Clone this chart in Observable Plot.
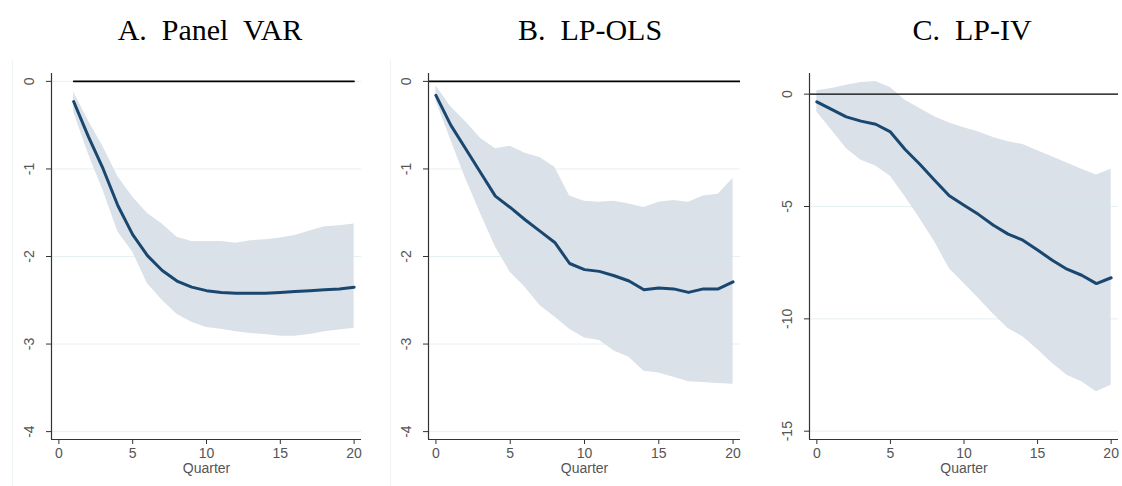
<!DOCTYPE html>
<html><head><meta charset="utf-8">
<script src="https://cdn.jsdelivr.net/npm/d3@7"></script>
<script src="https://cdn.jsdelivr.net/npm/@observablehq/plot@0.6"></script>
<style>
body{margin:0;background:#fff;width:1122px;height:486px;position:relative;overflow:hidden;font-family:"Liberation Sans",Arial,sans-serif;}
.title{position:absolute;top:15px;font-family:"Liberation Serif","Times New Roman",serif;font-size:30px;line-height:30px;white-space:pre;transform:translateX(-50%);color:#000;}
.panel{position:absolute;top:60px;}
.sep{position:absolute;top:60px;width:1px;height:426px;background:#eef3f5;}
</style></head><body>
<div class="sep" style="left:12px"></div>
<div class="sep" style="left:390px"></div>
<div id="tA" class="title" style="left:210px"></div>
<div id="tB" class="title" style="left:590px"></div>
<div id="tC" class="title" style="left:972px"></div>
<div id="pA" class="panel" style="left:0px"></div>
<div id="pB" class="panel" style="left:380px"></div>
<div id="pC" class="panel" style="left:760px"></div>
<script>
// ---- Data ----
const titles = ["A.  Panel  VAR", "B.  LP-OLS", "C.  LP-IV"];
const xLabel = "Quarter";
const xTicks = [0, 5, 10, 15, 20];
const yTicksAB = [0, -1, -2, -3, -4];
const yTicksC = [0, -5, -10, -15];

const quartersA = [1,2,3,4,5,6,7,8,9,10,11,12,13,14,15,16,17,18,19,20];
const varMean  = [-0.23,-0.63,-1.00,-1.42,-1.75,-1.99,-2.16,-2.28,-2.35,-2.39,-2.41,-2.42,-2.42,-2.42,-2.41,-2.40,-2.39,-2.38,-2.37,-2.35];
const varUpper = [-0.12,-0.45,-0.75,-1.09,-1.32,-1.51,-1.63,-1.78,-1.83,-1.83,-1.83,-1.85,-1.82,-1.81,-1.79,-1.76,-1.71,-1.66,-1.65,-1.63];
const varLower = [-0.35,-0.83,-1.25,-1.72,-1.95,-2.31,-2.50,-2.66,-2.75,-2.81,-2.83,-2.86,-2.88,-2.89,-2.91,-2.91,-2.89,-2.86,-2.84,-2.82];

const quartersBC = [0,1,2,3,4,5,6,7,8,9,10,11,12,13,14,15,16,17,18,19,20];
const olsMean  = [-0.16,-0.50,-0.77,-1.04,-1.31,-1.44,-1.58,-1.71,-1.84,-2.08,-2.15,-2.17,-2.22,-2.28,-2.38,-2.36,-2.37,-2.41,-2.37,-2.37,-2.29];
const olsUpper = [-0.05,-0.29,-0.46,-0.65,-0.77,-0.74,-0.82,-0.87,-0.98,-1.31,-1.37,-1.38,-1.37,-1.40,-1.44,-1.38,-1.36,-1.38,-1.31,-1.29,-1.11];
const olsLower = [-0.22,-0.67,-1.11,-1.51,-1.89,-2.18,-2.35,-2.56,-2.69,-2.83,-2.93,-2.96,-3.08,-3.15,-3.31,-3.33,-3.38,-3.43,-3.44,-3.45,-3.46];

const ivMean  = [-0.34,-0.68,-1.01,-1.20,-1.34,-1.68,-2.46,-3.12,-3.83,-4.52,-4.94,-5.36,-5.83,-6.23,-6.50,-6.94,-7.39,-7.79,-8.06,-8.43,-8.17];
const ivUpper = [0.15,0.25,0.40,0.52,0.56,0.30,-0.27,-0.64,-1.01,-1.28,-1.50,-1.68,-1.93,-2.12,-2.24,-2.52,-2.79,-3.06,-3.34,-3.60,-3.34];
const ivLower = [-0.79,-1.60,-2.42,-2.94,-3.20,-3.65,-4.57,-5.53,-6.57,-7.76,-8.43,-9.09,-9.79,-10.43,-10.80,-11.36,-11.98,-12.51,-12.80,-13.25,-12.95];

// ---- Chart ----
const xDomain = [-0.5, 20.5];

function panel({quarters, mean, upper, lower, yDomain, yTicks, zeroFull, zeroWidth, width, marginLeft, marginRight}) {
  const rows = quarters.map((q, i) => ({q, m: mean[i], u: upper[i], l: lower[i]}));
  const zeroMark = zeroFull
    ? Plot.ruleY([0], {stroke: "#000", strokeWidth: zeroWidth})
    : Plot.line(rows, {x: "q", y: () => 0, stroke: "#000", strokeWidth: zeroWidth});
  return Plot.plot({
    width, height: 426,
    marginTop: 13, marginBottom: 47, marginLeft, marginRight,
    x: {domain: xDomain},
    y: {domain: yDomain},
    style: {fontFamily: "'Liberation Sans', Arial, sans-serif", fontSize: "14px", color: "#555", background: "transparent", overflow: "visible"},
    marks: [
      Plot.areaY(rows, {x: "q", y1: "l", y2: "u", fill: "#dae1e8"}),
      Plot.gridY(yTicks, {stroke: "#d5e6e9", strokeOpacity: 0.6}),
      zeroMark,
      Plot.line(rows, {x: "q", y: "m", stroke: "#1a476f", strokeWidth: 3}),
      Plot.ruleX([xDomain[0]], {stroke: "#333", strokeWidth: 1.2}),
      Plot.ruleY([yDomain[0]], {stroke: "#333", strokeWidth: 1.2}),
      Plot.axisX(xTicks, {tickSize: 5, tickPadding: 4, label: null, stroke: "#333", fontSize: 14}),
      Plot.axisY(yTicks, {tickSize: 5, tickPadding: 13, tickRotate: -90, textAnchor: "middle", tickFormat: d => String(d), label: null, stroke: "#333", fontSize: 14}),
      Plot.text([xLabel], {frameAnchor: "bottom", dy: 33, fill: "#555", fontSize: 14})
    ]
  });
}

document.getElementById("tA").textContent = titles[0];
document.getElementById("tB").textContent = titles[1];
document.getElementById("tC").textContent = titles[2];

document.getElementById("pA").append(panel({
  quarters: quartersA, mean: varMean, upper: varUpper, lower: varLower,
  yDomain: [-4.09, 0.09], yTicks: yTicksAB, zeroFull: false, zeroWidth: 1.6,
  width: 375, marginLeft: 51, marginRight: 14
}));
document.getElementById("pB").append(panel({
  quarters: quartersBC, mean: olsMean, upper: olsUpper, lower: olsLower,
  yDomain: [-4.09, 0.09], yTicks: yTicksAB, zeroFull: true, zeroWidth: 1.6,
  width: 375, marginLeft: 48, marginRight: 15
}));
document.getElementById("pC").append(panel({
  quarters: quartersBC, mean: ivMean, upper: ivUpper, lower: ivLower,
  yDomain: [-15.37, 0.92], yTicks: yTicksC, zeroFull: true, zeroWidth: 1.1,
  width: 362, marginLeft: 49, marginRight: 4
}));
</script>
</body></html>
